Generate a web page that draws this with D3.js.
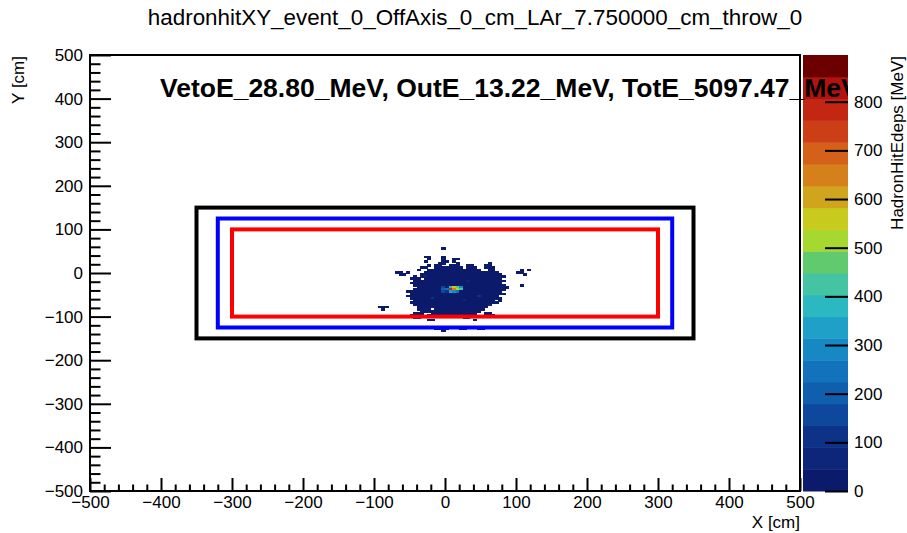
<html lang="en">
  <head>
    <title>hadronhitXY</title>
    <script src="https://d3js.org/d3.v7.min.js"></script>
    <style>
      body { margin: 0; background: #fff; }
      text { font-family: 'Liberation Sans', Arial, sans-serif; }
    </style>
  </head>
  <body>
    <div id="container"></div>
    <script>
      // ---- chart values ----
      const title = 'hadronhitXY_event_0_OffAxis_0_cm_LAr_7.750000_cm_throw_0'
      const infoText = 'VetoE_28.80_MeV, OutE_13.22_MeV, TotE_5097.47_MeV'
      const xTickVals = [-500, -400, -300, -200, -100, 0, 100, 200, 300, 400, 500]
      const yTickVals = [-500, -400, -300, -200, -100, 0, 100, 200, 300, 400, 500]
      const zTickVals = [0, 100, 200, 300, 400, 500, 600, 700, 800]
      const zMax = 896
      const binSize = 5

      // detector boxes: outer, veto, inner
      const boxHalfX = [350, 320, 300]
      const boxHalfY = [150, 125, 100]
      const boxColors = ['#000000', '#0000ff', '#ff0000']

      // hit cells, one row per y bin (lower edge), runs of [x0, x1) in cm
      const rowY = [55, 35, 30, 25, 20, 15, 10, 5, 0, -5, -10, -15, -20, -25, -30, -35, -40,
        -45, -50, -55, -60, -65, -70, -75, -80, -85, -90, -95, -100, -105, -110, -130, -135]
      const rowRuns = [
        [[-5, 0]],
        [[-30, -20], [-5, 0]],
        [[-25, -20], [-5, 0], [10, 20]],
        [[-30, -25], [-5, 5], [10, 15]],
        [[-10, 0], [15, 20], [60, 65]],
        [[-25, -20], [-15, -5], [5, 20], [30, 40], [55, 65]],
        [[-35, -25], [-15, 25], [30, 45], [55, 70]],
        [[-40, -35], [-25, 50], [60, 70], [105, 110], [115, 120]],
        [[-70, -60], [-55, -50], [-30, 75], [100, 110]],
        [[-65, -55], [-35, 80], [110, 115]],
        [[-45, -40], [-35, 85]],
        [[-50, -35], [-30, 80]],
        [[-45, 85]],
        [[-50, 80]],
        [[-45, 85], [105, 110]],
        [[-40, 90]],
        [[-45, 85]],
        [[-55, 80]],
        [[-50, 85]],
        [[-55, 75]],
        [[-50, 80]],
        [[-45, 70], [75, 80]],
        [[-50, 75]],
        [[-45, 65]],
        [[-95, -80], [-40, 60]],
        [[-90, -85], [-40, -20], [-15, 55]],
        [[-35, 50]],
        [[-45, -30], [-20, 45], [55, 65]],
        [[-50, -40], [-25, -10], [20, 35], [60, 70]],
        [[-45, -35], [25, 35]],
        [[-25, -15], [40, 45]],
        [[-15, 5], [20, 30], [45, 55]],
        [[-5, 0]]
      ]
      const baseEdep = 20
      // cells with a higher deposit: [x, y, MeV]
      const hotCells = [
        [0, -40, 230], [5, -40, 800], [10, -40, 640], [15, -40, 520], [20, -40, 430],
        [5, -35, 380], [10, -35, 560], [15, -35, 470], [20, -35, 300],
        [5, -45, 330], [10, -45, 280], [15, -45, 250], [-5, -45, 160], [0, -45, 120],
        [-5, -35, 140], [-5, -40, 200], [-20, -60, 90], [30, -20, 80], [45, -55, 95],
        [-30, -10, 70], [60, -75, 85], [25, -65, 60]
      ]

      // 20-step palette used by the colour bar
      const palette = ['#0c1a6c', '#0e2679', '#0d3288', '#0e489c', '#105eae', '#1272bb',
        '#1688c4', '#1ea0c9', '#2cb8c0', '#44c4a2', '#62ca6e', '#a6d830', '#c8ca1e',
        '#d0a41c', '#d6801c', '#d4601a', '#cc3e16', '#c42614', '#b41210', '#6c0000']

      const W = 907, H = 533
      const frame = { left: 90, right: 800, top: 55, bottom: 491 }
      const bar = { left: 803, right: 848 }

      const svg = d3.select('#container').append('svg')
        .attr('width', W)
        .attr('height', H)

      const xs = d3.scaleLinear().domain([-500, 500]).range([frame.left, frame.right])
      const ys = d3.scaleLinear().domain([-500, 500]).range([frame.bottom, frame.top])
      const zs = d3.scaleLinear().domain([0, zMax]).range([frame.bottom, frame.top])
      const colorOf = v => palette[Math.min(palette.length - 1, Math.floor(v / zMax * palette.length))]

      // Build cell list
      let cells = []
      rowY.forEach((y, i) => {
        rowRuns[i].forEach(r => {
          for (let x = r[0]; x < r[1]; x += binSize) cells.push({ x, y, v: baseEdep })
        })
      })
      hotCells.forEach(h => {
        let c = cells.find(d => d.x === h[0] && d.y === h[1])
        if (c) c.v = h[2]
        else cells.push({ x: h[0], y: h[1], v: h[2] })
      })

      svg.append('g')
        .attr('shape-rendering', 'crispEdges')
        .selectAll('rect')
        .data(cells).enter()
        .append('rect')
        .attr('x', d => xs(d.x))
        .attr('y', d => ys(d.y + binSize))
        .attr('width', d => xs(d.x + binSize) - xs(d.x) + 0.5)
        .attr('height', d => ys(d.y) - ys(d.y + binSize) + 0.5)
        .attr('fill', d => colorOf(d.v))

      // Detector boxes
      svg.append('g')
        .selectAll('rect')
        .data(boxHalfX).enter()
        .append('rect')
        .attr('x', (d, i) => xs(-d))
        .attr('y', (d, i) => ys(boxHalfY[i]))
        .attr('width', (d, i) => xs(d) - xs(-d))
        .attr('height', (d, i) => ys(-boxHalfY[i]) - ys(boxHalfY[i]))
        .attr('fill', 'none')
        .attr('stroke', (d, i) => boxColors[i])
        .attr('stroke-width', 4)

      // Axes, ticks pointing inward
      const minorX = d3.range(-500, 501, 20).filter(v => v % 100 !== 0)
      const fmt = v => (v < 0 ? '\u2212' + Math.abs(v) : '' + v)
      const styleAxis = g => {
        g.select('.domain').remove()
        g.selectAll('line').attr('stroke', '#000').attr('stroke-width', 2)
        g.selectAll('text').attr('font-size', 17).attr('fill', '#000')
      }
      svg.append('g')
        .attr('transform', `translate(0,${frame.bottom})`)
        .call(d3.axisBottom(xs).tickValues(minorX).tickSize(-6.5).tickFormat(''))
        .call(styleAxis)
      svg.append('g')
        .attr('transform', `translate(0,${frame.bottom})`)
        .call(d3.axisBottom(xs).tickValues(xTickVals).tickSize(-13).tickPadding(5).tickFormat(fmt))
        .call(styleAxis)
      svg.append('g')
        .attr('transform', `translate(${frame.left},0)`)
        .call(d3.axisLeft(ys).tickValues(minorX).tickSize(-10.5).tickFormat(''))
        .call(styleAxis)
      svg.append('g')
        .attr('transform', `translate(${frame.left},0)`)
        .call(d3.axisLeft(ys).tickValues(yTickVals).tickSize(-21).tickPadding(7).tickFormat(fmt))
        .call(styleAxis)

      // Frame
      svg.append('rect')
        .attr('x', frame.left)
        .attr('y', frame.top)
        .attr('width', frame.right - frame.left)
        .attr('height', frame.bottom - frame.top)
        .attr('fill', 'none')
        .attr('stroke', '#000')
        .attr('stroke-width', 2)

      // Colour bar
      const bandH = (frame.bottom - frame.top) / palette.length
      svg.append('g')
        .selectAll('rect')
        .data(palette).enter()
        .append('rect')
        .attr('x', bar.left)
        .attr('y', (d, i) => zs((i + 1) * zMax / palette.length))
        .attr('width', bar.right - bar.left)
        .attr('height', bandH + 0.5)
        .attr('fill', d => d)
      svg.append('g')
        .attr('transform', `translate(${bar.right},0)`)
        .call(d3.axisRight(zs).tickValues(zTickVals).tickSize(-23).tickPadding(6))
        .call(styleAxis)

      // Texts
      svg.append('text')
        .attr('x', 475)
        .attr('y', 25)
        .attr('text-anchor', 'middle')
        .attr('font-size', 22.4)
        .text(title)

      svg.append('clipPath').attr('id', 'infoClip')
        .append('rect').attr('x', 0).attr('y', 0).attr('width', bar.right).attr('height', H)
      svg.append('text')
        .attr('x', 160)
        .attr('y', 97)
        .attr('clip-path', 'url(#infoClip)')
        .attr('font-size', 26.5)
        .attr('font-weight', 'bold')
        .text(infoText)

      svg.append('text')
        .attr('transform', 'translate(24,56) rotate(-90)')
        .attr('text-anchor', 'end')
        .attr('font-size', 17)
        .text('Y [cm]')
      svg.append('text')
        .attr('x', 800)
        .attr('y', 528)
        .attr('text-anchor', 'end')
        .attr('font-size', 17)
        .text('X [cm]')
      svg.append('text')
        .attr('transform', 'translate(903,56) rotate(-90)')
        .attr('text-anchor', 'end')
        .attr('font-size', 17)
        .text('HadronHitEdeps [MeV]')
    </script>
  </body>
</html>
